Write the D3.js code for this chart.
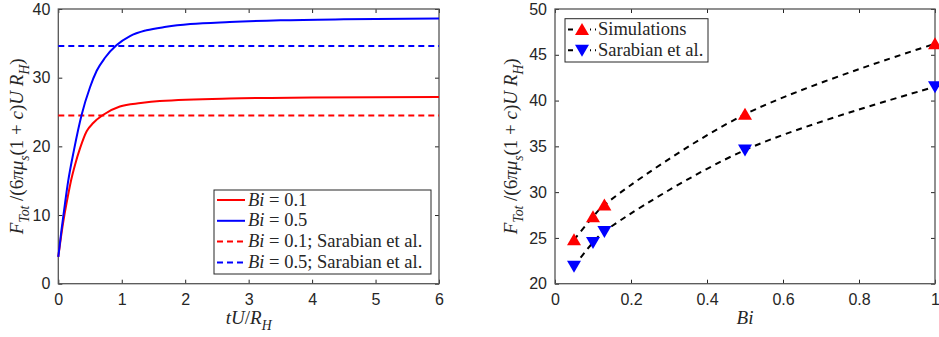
<!DOCTYPE html>
<html>
<head>
<meta charset="utf-8">
<script src="https://cdn.jsdelivr.net/npm/d3@7/dist/d3.min.js"></script>
<style>
  html, body { margin: 0; padding: 0; background: #fff; }
  svg { display: block; }
</style>
</head>
<body>
<svg id="chart" width="939" height="337"></svg>
<script>
// ---- Left panel: total force vs. dimensionless time ----
const timeBi01  = [0, 0.05, 0.1, 0.15, 0.2, 0.263, 0.342, 0.447, 0.55, 0.71, 0.97, 1.3, 1.6, 2.7, 4, 6];
const forceBi01 = [3.9, 7.3, 10.2, 12.7, 15.0, 17.3, 19.7, 22.2, 23.4, 24.6, 25.8, 26.3, 26.6, 26.97, 27.1, 27.2];
const timeBi05  = [0, 0.05, 0.1, 0.15, 0.25, 0.368, 0.5, 0.605, 0.736, 0.92, 1.13, 1.39, 1.7, 2.08, 2.7, 3.5, 4.5, 6];
const forceBi05 = [3.9, 7.8, 11.3, 14.6, 19.6, 24.6, 28.6, 31.0, 32.9, 34.75, 36.06, 36.9, 37.4, 37.8, 38.1, 38.35, 38.5, 38.6];
const sarabianBi01 = 24.5;
const sarabianBi05 = 34.6;
const leftXTicks = [0, 1, 2, 3, 4, 5, 6];
const leftYTicks = [0, 10, 20, 30, 40];

// ---- Right panel: steady force vs. Bingham number ----
const biValues        = [0.05, 0.1, 0.13, 0.5, 1.0];
const simulationForce = [24.8, 27.3, 28.6, 38.5, 46.2];
const sarabianForce   = [21.9, 24.5, 25.7, 34.6, 41.5];
const rightXTicks = [0, 0.2, 0.4, 0.6, 0.8, 1];
const rightYTicks = [20, 25, 30, 35, 40, 45, 50];

const svg = d3.select("#chart");
const axisColor = "#262626";
const sansFont = '"Liberation Sans", Arial, sans-serif';
const serifFont = '"Liberation Serif", serif';

const left  = { x0: 58.3, x1: 439, y0: 9, y1: 283.7 };
const right = { x0: 555,  x1: 935, y0: 9, y1: 283.7 };

const xL = d3.scaleLinear().domain([0, 6]).range([left.x0, left.x1]);
const yL = d3.scaleLinear().domain([0, 40]).range([left.y1, left.y0]);
const xR = d3.scaleLinear().domain([0, 1]).range([right.x0, right.x1]);
const yR = d3.scaleLinear().domain([20, 50]).range([right.y1, right.y0]);

// Box with inward ticks on all four sides
function drawFrame(x, y, xt, yt, fmt) {
  const [ax0, ax1] = x.range();
  const [ay1, ay0] = y.range();
  const g = svg.append("g");
  g.append("g").attr("transform", `translate(0,${ay1})`)
    .call(d3.axisBottom(x).tickValues(xt).tickSizeInner(-4).tickSizeOuter(0).tickPadding(10).tickFormat(fmt));
  g.append("g").attr("transform", `translate(0,${ay0})`)
    .call(d3.axisTop(x).tickValues(xt).tickSizeInner(-4).tickSizeOuter(0).tickFormat(""));
  g.append("g").attr("transform", `translate(${ax0},0)`)
    .call(d3.axisLeft(y).tickValues(yt).tickSizeInner(-4).tickSizeOuter(0).tickPadding(8));
  g.append("g").attr("transform", `translate(${ax1},0)`)
    .call(d3.axisRight(y).tickValues(yt).tickSizeInner(-4).tickSizeOuter(0).tickFormat(""));
  g.selectAll(".domain").remove();
  g.selectAll(".tick line").attr("stroke", axisColor).attr("stroke-width", 1);
  g.selectAll(".tick text").style("font-family", sansFont).style("font-size", "16px").attr("fill", axisColor);
  g.append("rect")
    .attr("x", ax0).attr("y", ay0).attr("width", ax1 - ax0).attr("height", ay1 - ay0)
    .attr("fill", "none").attr("stroke", "#555").attr("stroke-width", 1.3);
  return g;
}

// Math-style text built from tspans: [text, style] where style: i = italic, sub = subscript
function mathText(parent, x, y, parts, size, anchor, rotate) {
  const t = parent.append("text")
    .style("font-family", serifFont).style("font-size", size + "px")
    .attr("fill", axisColor).attr("text-anchor", anchor || "start");
  if (rotate) t.attr("transform", `translate(${x},${y}) rotate(-90)`);
  else t.attr("x", x).attr("y", y);
  let shift = 0;
  parts.forEach(([s, style]) => {
    const sp = t.append("tspan").text(s);
    if (style && style.includes("i")) sp.style("font-style", "italic");
    const isSub = style && style.includes("sub");
    const target = isSub ? size * 0.3 : 0;
    if (target !== shift) { sp.attr("dy", target - shift); shift = target; }
    if (isSub) sp.style("font-size", (size * 0.72) + "px");
  });
  return t;
}

const yLabelParts = [["F", "i"], ["Tot", "i sub"], [" /(6", ""], ["π", "i"], ["μ", "i"], ["s", "i sub"],
  ["(1 + ", ""], ["c", "i"], [")", ""], ["U R", "i"], ["H", "i sub"], [")", ""]];

// ---------------- Left panel ----------------
drawFrame(xL, yL, leftXTicks, leftYTicks, d3.format("d"));

const lineL = (ts, vals) => d3.line().x((d, i) => xL(ts[i])).y(d => yL(d)).curve(d3.curveMonotoneX)(vals);

svg.append("line").attr("x1", xL(0)).attr("x2", xL(6)).attr("y1", yL(sarabianBi01)).attr("y2", yL(sarabianBi01))
  .attr("stroke", "#ff0000").attr("stroke-width", 2).attr("stroke-dasharray", "6,4");
svg.append("line").attr("x1", xL(0)).attr("x2", xL(6)).attr("y1", yL(sarabianBi05)).attr("y2", yL(sarabianBi05))
  .attr("stroke", "#0000ff").attr("stroke-width", 2).attr("stroke-dasharray", "6,4");
svg.append("path").attr("d", lineL(timeBi01, forceBi01)).attr("fill", "none").attr("stroke", "#ff0000").attr("stroke-width", 2);
svg.append("path").attr("d", lineL(timeBi05, forceBi05)).attr("fill", "none").attr("stroke", "#0000ff").attr("stroke-width", 2);

mathText(svg, 23, (left.y0 + left.y1) / 2, yLabelParts, 19, "middle", true);
mathText(svg, (left.x0 + left.x1) / 2, 324, [["tU", "i"], ["/", ""], ["R", "i"], ["H", "i sub"]], 19, "middle");

// Legend (left)
const legL = svg.append("g");
legL.append("rect").attr("x", 214).attr("y", 190).attr("width", 217).attr("height", 84)
  .attr("fill", "#fff").attr("stroke", "#262626").attr("stroke-width", 1);
const legLItems = [
  { color: "#ff0000", dash: null, parts: [["Bi", "i"], [" = 0.1", ""]] },
  { color: "#0000ff", dash: null, parts: [["Bi", "i"], [" = 0.5", ""]] },
  { color: "#ff0000", dash: "6,4", parts: [["Bi", "i"], [" = 0.1; Sarabian et al.", ""]] },
  { color: "#0000ff", dash: "6,4", parts: [["Bi", "i"], [" = 0.5; Sarabian et al.", ""]] }
];
legLItems.forEach((d, i) => {
  const cy = 200 + i * 20.8;
  legL.append("line").attr("x1", 217).attr("x2", 245).attr("y1", cy).attr("y2", cy)
    .attr("stroke", d.color).attr("stroke-width", 2).attr("stroke-dasharray", d.dash);
  mathText(legL, 248, cy + 5.5, d.parts, 18.5, "start");
});

// ---------------- Right panel ----------------
drawFrame(xR, yR, rightXTicks, rightYTicks, d => d === 0 || d === 1 ? d3.format("d")(d) : d3.format(".1f")(d));

const lineR = d3.line().x((d, i) => xR(biValues[i])).y(d => yR(d)).curve(d3.curveCatmullRom.alpha(0.5));
svg.append("path").attr("d", lineR(simulationForce)).attr("fill", "none")
  .attr("stroke", "#000").attr("stroke-width", 2).attr("stroke-dasharray", "6,5");
svg.append("path").attr("d", lineR(sarabianForce)).attr("fill", "none")
  .attr("stroke", "#000").attr("stroke-width", 2).attr("stroke-dasharray", "6,5");

const triUp = "M0,-6.5L7,5.5L-7,5.5Z";
const triDown = "M0,6.5L7,-5.5L-7,-5.5Z";
svg.append("g").selectAll("path").data(simulationForce).join("path")
  .attr("d", triUp).attr("fill", "#ff0000")
  .attr("transform", (d, i) => `translate(${xR(biValues[i])},${yR(d)})`);
svg.append("g").selectAll("path").data(sarabianForce).join("path")
  .attr("d", triDown).attr("fill", "#0000ff")
  .attr("transform", (d, i) => `translate(${xR(biValues[i])},${yR(d)})`);

mathText(svg, 517, (right.y0 + right.y1) / 2, yLabelParts, 19, "middle", true);
mathText(svg, (right.x0 + right.x1) / 2, 324, [["Bi", "i"]], 19, "middle");

// Legend (right)
const legR = svg.append("g");
legR.append("rect").attr("x", 565).attr("y", 18.7).attr("width", 143).attr("height", 43.3)
  .attr("fill", "#fff").attr("stroke", "#262626").attr("stroke-width", 1);
const legRItems = [
  { color: "#ff0000", shape: triUp, label: "Simulations" },
  { color: "#0000ff", shape: triDown, label: "Sarabian et al." }
];
legRItems.forEach((d, i) => {
  const cy = 29.5 + i * 20.7;
  legR.append("line").attr("x1", 568).attr("x2", 596).attr("y1", cy).attr("y2", cy)
    .attr("stroke", "#000").attr("stroke-width", 2).attr("stroke-dasharray", "5,4");
  legR.append("rect").attr("x", 574).attr("y", cy - 7).attr("width", 16).attr("height", 14).attr("fill", "#fff");
  legR.append("path").attr("d", d.shape).attr("fill", d.color).attr("transform", `translate(582,${cy})`);
  legR.append("text").style("font-family", serifFont).style("font-size", "18.5px").attr("fill", axisColor)
    .attr("x", 598).attr("y", cy + 5.5).text(d.label);
});
</script>
</body>
</html>
